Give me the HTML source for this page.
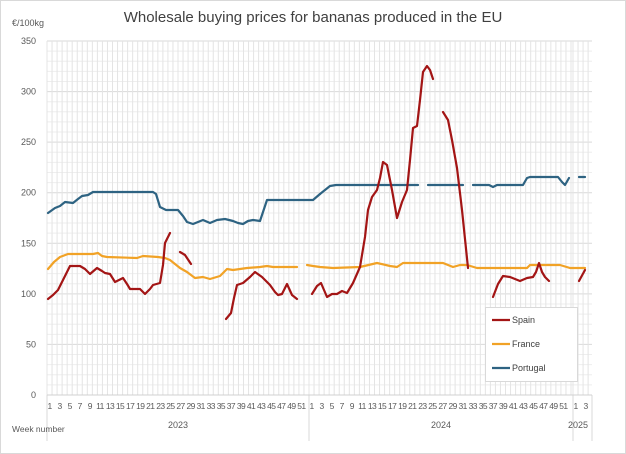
<!DOCTYPE html>
<html><head><meta charset="utf-8"><style>
body{margin:0;background:#fff}
svg{display:block;font-family:"Liberation Sans",sans-serif}
</style></head><body>
<svg id="s" width="626" height="454" viewBox="0 0 626 454">
<rect x="0.5" y="0.5" width="625" height="453" fill="#fff" stroke="#d9d9d9"/>
<text x="313" y="22" text-anchor="middle" font-size="15" fill="#404040">Wholesale buying prices for bananas produced in the EU</text>
<text x="12" y="26" font-size="9" fill="#595959">€/100kg</text>
<g id="grid"></g>
<g id="lab" font-size="9" fill="#595959"></g>
<g fill="none" stroke-width="2.2" stroke-linejoin="round" stroke-linecap="round">
<g stroke="#2e6382">
<polyline points="48,213 55,208 60,206 65,202 73,203 78,199 82,196 88,195 93,192 153,192 156,194 160,207 166,210 173,210 178,210 183,216 187,222 193,224 198,222 203,220 210,223 217,220 225,219 233,221 238,223 243,224 248,221 253,220 260,221 263,212 267,200 313,200 320,194"/>
<polyline points="320,194 325,190 330,186 336,185 418,185"/>
<polyline points="428,185 463,185"/>
<polyline points="473,185 489,185 493,187 497,185 523,185 527,178 530,177 558,177 562,182 565,185 569,178"/>
<polyline points="579,177 585,177"/>
</g>
<g stroke="#f1a226">
<polyline points="48,269 54,262 60,257 68,254 93,254 98,253 102,256 107,257 137,258 143,256 158,257 165,258 170,260 175,264 180,268 187,272 195,278 203,277 210,279 220,276 224,272 227,269 233,270 247,268 260,267 267,266 273,267 297,267"/>
<polyline points="307,265 313,266 320,267 333,268 360,267 377,263 390,266 397,267 403,263 443,263 448,265 453,267 460,265 467,265 477,268 527,268 530,265 560,265 570,268 585,268"/>
</g>
<g stroke="#a31515">
<polyline points="48,299 53,295 58,290 63,280 70,266 80,266 85,269 90,274 97,268 102,271 105,273 110,274 115,282 123,278 127,284 130,289 140,289 145,294 150,289 153,285 160,283 163,265 165,243 170,233"/>
<polyline points="180,252 185,255 191,264"/>
<polyline points="226,319 231,313 234,298 237,285 243,283 250,277 255,272 262,277 270,285 275,292 278,295 282,294 287,284 292,295 297,299"/>
<polyline points="312,294 317,286 321,283 324,290 327,297 332,294 337,294 342,291 347,293 353,283 360,267 365,237 368,210 372,197 377,190 380,178 383,162 387,165 392,190 397,218 402,202 407,190 410,160 413,128 417,126 420,100 423,72 427,66 430,70 433,79"/>
<polyline points="443,112 448,120 452,140 457,168 462,210 468,268"/>
<polyline points="493,297 498,284 503,276 510,277 520,281 527,278 533,277 536,272 539,263 542,272 545,277 549,281"/>
<polyline points="579,281 585,270"/>
</g>
</g>
<rect x="485.5" y="307.5" width="92" height="74" fill="#fff" stroke="#d9d9d9"/>
<g font-size="9" fill="#404040">
<line x1="492" y1="320" x2="510" y2="320" stroke="#a31515" stroke-width="2.2"/><text x="512" y="323">Spain</text>
<line x1="492" y1="344" x2="510" y2="344" stroke="#f1a226" stroke-width="2.2"/><text x="512" y="347">France</text>
<line x1="492" y1="368" x2="510" y2="368" stroke="#2e6382" stroke-width="2.2"/><text x="512" y="371">Portugal</text>
</g>
</svg>
<script>
var NS="http://www.w3.org/2000/svg",g=document.getElementById("grid"),l=document.getElementById("lab");
function el(p,t,a,txt){var e=document.createElementNS(NS,t);for(var k in a)e.setAttribute(k,a[k]);if(txt!==undefined)e.textContent=txt;p.appendChild(e);return e;}
var x0=47,x1=592,y0=395,sc=1.0114;
for(var v=0;v<=350;v+=10){var y=y0-v*sc;el(g,"line",{x1:x0,x2:x1,y1:y,y2:y,stroke:v%50?"#eeeeee":"#d9d9d9","stroke-width":1});
if(v%50==0)el(l,"text",{x:36,y:y+3,"text-anchor":"end"},v);}
var sw=(309-47)/52,i,yrs=[[47,52],[309,52],[573,3]];
yrs.forEach(function(yr){for(i=0;i<=yr[1];i++){var x=yr[0]+i*sw;el(g,"line",{x1:x,x2:x,y1:y0-350*sc,y2:y0,stroke:"#e4e4e4","stroke-width":1});}
for(i=1;i<=yr[1];i+=2){el(l,"text",{x:yr[0]+(i-0.5)*sw,y:409,"text-anchor":"middle","font-size":8.5,"letter-spacing":-0.6},i);}});
[47,309,573,592].forEach(function(x){el(g,"line",{x1:x,x2:x,y1:y0,y2:441,stroke:"#d9d9d9"});});
el(g,"line",{x1:x0,x2:x1,y1:y0,y2:y0,stroke:"#d0d0d0"});
el(l,"text",{x:178,y:428,"text-anchor":"middle"},"2023");
el(l,"text",{x:441,y:428,"text-anchor":"middle"},"2024");
el(l,"text",{x:578,y:428,"text-anchor":"middle"},"2025");
el(l,"text",{x:12,y:432,"font-size":8.5},"Week number");
</script>
</body></html>
